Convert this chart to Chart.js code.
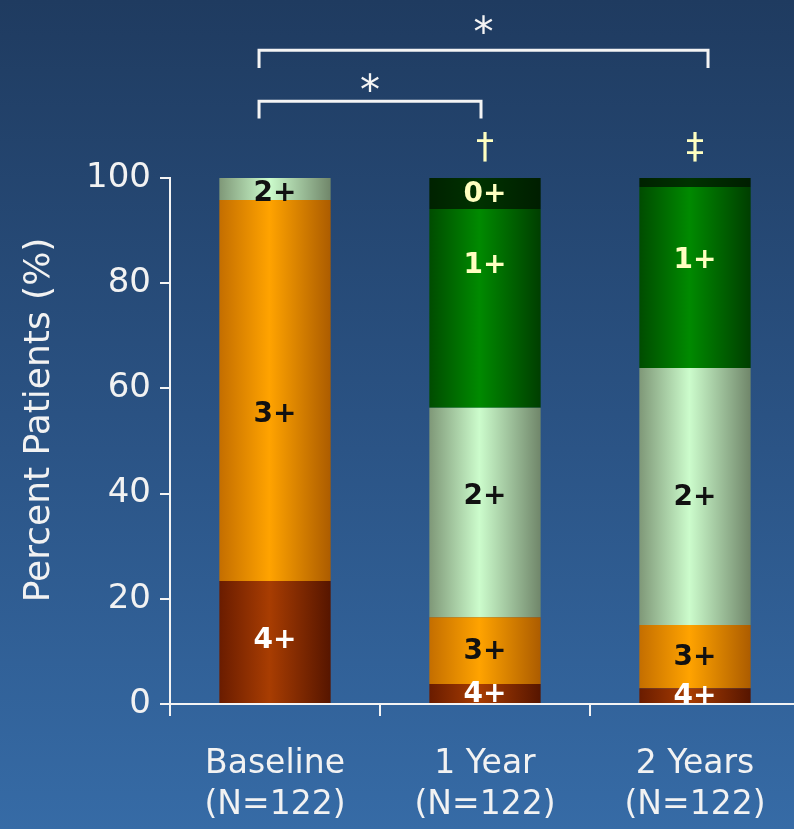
<!DOCTYPE html>
<html>
<head>
<meta charset="utf-8">
<script src="https://cdn.jsdelivr.net/npm/chart.js@4/dist/chart.umd.min.js"></script>
<style>
  html, body { margin: 0; padding: 0; }
  #wrap {
    width: 794px; height: 829px; overflow: hidden; position: relative;
    background: linear-gradient(to bottom, #1f3b60 0%, #2a5283 50%, #366ba6 100%);
  }
  canvas { display: block; }
</style>
</head>
<body>
<div id="wrap"><canvas id="c" width="806" height="829"></canvas></div>
<script>
// Categories and sample sizes
const categories = ['Baseline', '1 Year', '2 Years'];
const sampleSizes = ['(N=122)', '(N=122)', '(N=122)'];

// Percent of patients by grade at each time point (stacked bottom to top)
const grade4 = [23.4, 3.8, 3.0];
const grade3 = [72.4, 12.7, 12.0];
const grade2 = [4.2, 39.8, 48.9];
const grade1 = [0, 37.8, 34.4];
const grade0 = [0, 5.9, 1.7];

// Y axis ticks
const yTicks = [0, 20, 40, 60, 80, 100];
const yTitle = 'Percent Patients (%)';

// Significance marks above the bars
const brackets = [
  { from: 0, to: 2, label: '*' },
  { from: 0, to: 1, label: '*' }
];
const markers = [
  { at: 1, label: '\u2020' },
  { at: 2, label: '\u2021' }
];

const FONT = "'DejaVu Sans', Verdana, sans-serif";
const BAR_PCT = 0.53;
const TEXT = '#f2f2f2';
const MIN_LABELLED = 2.5;

// horizontal shading across each bar: [left edge, highlight, right edge]
function shaded(stops, flat) {
  return (c) => {
    const chart = c.chart;
    if (!chart.chartArea || c.dataIndex === undefined) return flat;
    const xs = chart.scales.x;
    const cx = xs.getPixelForValue(c.dataIndex);
    const w = (xs.width / categories.length) * BAR_PCT;
    const g = chart.ctx.createLinearGradient(cx - w / 2, 0, cx + w / 2, 0);
    g.addColorStop(0, stops[0]);
    g.addColorStop(0.45, stops[1]);
    g.addColorStop(1, stops[2]);
    return g;
  };
}

// pos: where the grade label sits inside each segment (0 = bottom, 1 = top)
const series = [
  { label: '4+', data: grade4, stops: ['#6a1c00', '#a83d02', '#561500'], flat: '#8f3200', text: '#ffffff', pos: [0.52, 0.5, 0.5] },
  { label: '3+', data: grade3, stops: ['#c46e00', '#ffa300', '#ac5c00'], flat: '#f09000', text: '#111111', pos: [0.44, 0.5, 0.5] },
  { label: '2+', data: grade2, stops: ['#7f9878', '#ccfccc', '#70866a'], flat: '#b4e4b4', text: '#111111', pos: [0.35, 0.58, 0.5] },
  { label: '1+', data: grade1, stops: ['#004c00', '#008a00', '#003e00'], flat: '#007000', text: '#ffffc0', pos: [0.5, 0.72, 0.6] },
  { label: '0+', data: grade0, stops: ['#002200', '#003200', '#001e00'], flat: '#002c00', text: '#ffffc0', pos: [0.5, 0.5, 0.5] }
];

const segmentLabels = {
  id: 'segmentLabels',
  afterDatasetsDraw(chart) {
    const ctx = chart.ctx;
    ctx.save();
    ctx.font = "bold 28px " + FONT;
    ctx.textAlign = 'center';
    ctx.textBaseline = 'middle';
    series.forEach((s, di) => {
      const meta = chart.getDatasetMeta(di);
      meta.data.forEach((bar, i) => {
        if (!(s.data[i] >= MIN_LABELLED)) return;
        const y = bar.base + (bar.y - bar.base) * s.pos[i];
        ctx.fillStyle = s.text;
        ctx.fillText(s.label, bar.x, y + 1);
      });
    });
    ctx.restore();
  }
};

const axisTitle = {
  id: 'axisTitle',
  afterDraw(chart) {
    const ctx = chart.ctx;
    const ys = chart.scales.y;
    ctx.save();
    ctx.translate(40, ys.getPixelForValue(54));
    ctx.rotate(-Math.PI / 2);
    ctx.font = "36px " + FONT;
    ctx.fillStyle = TEXT;
    ctx.textAlign = 'center';
    ctx.textBaseline = 'middle';
    ctx.fillText(yTitle, 0, 0);
    ctx.restore();
  }
};

const significance = {
  id: 'significance',
  afterDraw(chart) {
    const ctx = chart.ctx;
    const xs = chart.scales.x, ys = chart.scales.y;
    const step = xs.getPixelForValue(1) - xs.getPixelForValue(0);
    ctx.save();
    // bracket geometry in scale units: heights on y, end nudges in category widths
    const levels = [
      { bar: 124.3, leg: 120.9, star: 128.6, d0: -0.076, d1: 0.062 },
      { bar: 114.6, leg: 111.3, star: 117.6, d0: -0.076, d1: -0.019 }
    ];
    brackets.forEach((b, k) => {
      const L = levels[k];
      const x0 = xs.getPixelForValue(b.from) + L.d0 * step;
      const x1 = xs.getPixelForValue(b.to) + L.d1 * step;
      const yb = ys.getPixelForValue(L.bar);
      const yl = ys.getPixelForValue(L.leg);
      ctx.strokeStyle = '#f4f4f4';
      ctx.lineWidth = 3;
      ctx.lineJoin = 'miter';
      ctx.beginPath();
      ctx.moveTo(x0, yl);
      ctx.lineTo(x0, yb);
      ctx.lineTo(x1, yb);
      ctx.lineTo(x1, yl);
      ctx.stroke();
      ctx.fillStyle = '#f4f4f4';
      ctx.font = "40px " + FONT;
      ctx.textAlign = 'center';
      ctx.textBaseline = 'middle';
      ctx.fillText(b.label, (x0 + x1) / 2, ys.getPixelForValue(L.star) + 8);
    });
    ctx.fillStyle = '#ffffc0';
    ctx.font = "36px " + FONT;
    ctx.textAlign = 'center';
    ctx.textBaseline = 'middle';
    markers.forEach((m) => {
      ctx.fillText(m.label, xs.getPixelForValue(m.at), ys.getPixelForValue(105.6));
    });
    ctx.restore();
  }
};

new Chart(document.getElementById('c'), {
  type: 'bar',
  data: {
    labels: categories.map((c, i) => [c, sampleSizes[i]]),
    datasets: series.map((s) => ({
      label: s.label,
      data: s.data,
      backgroundColor: shaded(s.stops, s.flat),
      borderWidth: 0,
      categoryPercentage: 1,
      barPercentage: BAR_PCT
    }))
  },
  options: {
    responsive: false,
    animation: false,
    layout: { padding: { top: 178, right: 6, left: 0, bottom: 0 } },
    plugins: { legend: { display: false }, tooltip: { enabled: false } },
    scales: {
      x: {
        stacked: true,
        grid: { offset: true, drawOnChartArea: false, drawTicks: true, tickLength: 12, color: '#f4f4f4', lineWidth: 2 },
        border: { display: true, color: '#f4f4f4', width: 2 },
        ticks: { color: TEXT, font: { family: FONT, size: 33, lineHeight: 1.25 }, padding: 28, maxRotation: 0 },
        afterFit(scale) { scale.height = 125; }
      },
      y: {
        stacked: true,
        min: 0,
        max: 100,
        afterBuildTicks(scale) { scale.ticks = yTicks.map((v) => ({ value: v })); },
        grid: { drawOnChartArea: false, drawTicks: true, tickLength: 10, color: '#f4f4f4', lineWidth: 2 },
        border: { display: true, color: '#f4f4f4', width: 2 },
        ticks: { color: TEXT, font: { family: FONT, size: 34 }, padding: 9 },
        afterFit(scale) { scale.width = 170; }
      }
    }
  },
  plugins: [segmentLabels, significance, axisTitle]
});
</script>
</body>
</html>
